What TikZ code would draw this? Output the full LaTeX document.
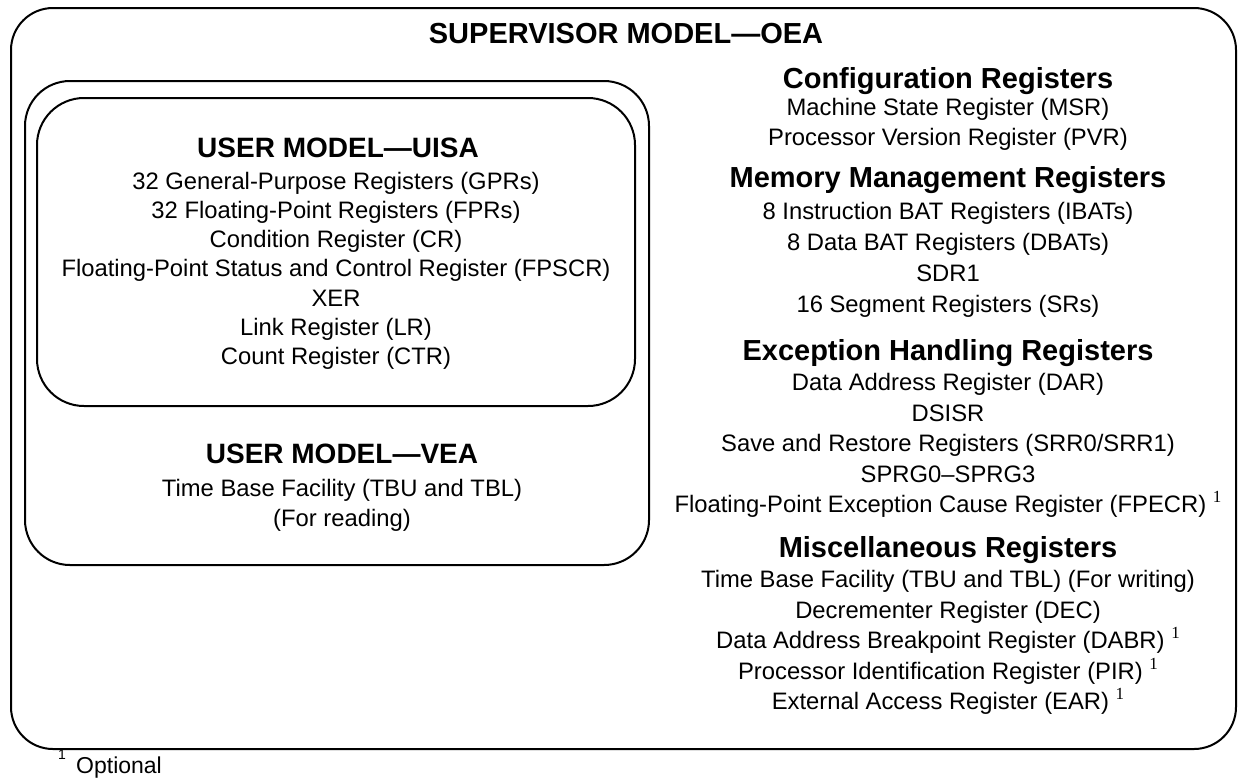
\documentclass[tikz,border=0pt]{standalone}
\usepackage{fontspec}
\setmainfont{Liberation Sans}
\newfontfamily\seriffont{Liberation Serif}
\newcommand{\optmark}{~\raisebox{10pt}{\fontsize{17}{17}\seriffont 1}}
\begin{document}
\begin{tikzpicture}[x=1pt,y=-1pt,
  frame/.style={draw=black, line width=2pt},
  ttl/.style={anchor=base, inner sep=0pt, font=\fontsize{29}{29}\selectfont\bfseries},
  lhd/.style={anchor=base, inner sep=0pt, font=\fontsize{28}{28}\selectfont\bfseries},
  txt/.style={anchor=base, inner sep=0pt, font=\fontsize{23.8}{28}\selectfont},
  foot/.style={anchor=base west, inner sep=0pt, font=\fontsize{23}{23}\selectfont}]
\useasboundingbox (0,0) rectangle (1238,777);
% frames
\draw[frame, rounded corners=42pt] (11,8) rectangle (1236,749);
\draw[frame, rounded corners=45pt] (25,81) rectangle (649,565);
\draw[frame, rounded corners=47pt] (37,98) rectangle (635,406);
% title
\node[ttl] (title) at (626,43) {SUPERVISOR MODEL—OEA};
% UISA
\node[lhd] (uisa) at (338,157) {USER MODEL—UISA};
\node[txt] (gpr) at (336,189) {32 General-Purpose Registers (GPRs)};
\node[txt] (fpr) at (336,218) {32 Floating-Point Registers (FPRs)};
\node[txt] (cr) at (336,247.5) {Condition Register (CR)};
\node[txt] (fpscr) at (336,276.5) {Floating-Point Status and Control Register (FPSCR)};
\node[txt] (xer) at (336,306) {XER};
\node[txt] (lr) at (336,335) {Link Register (LR)};
\node[txt] (ctr) at (336,364) {Count Register (CTR)};
% VEA
\node[lhd] (vea) at (342,463) {USER MODEL—VEA};
\node[txt] (tbr) at (342,496) {Time Base Facility (TBU and TBL)};
\node[txt] (forr) at (342,526) {(For reading)};
% right column
\node[ttl] (cfg) at (948,88) {Configuration Registers};
\node[txt] (msr) at (948,115.5) {Machine State Register (MSR)};
\node[txt] (pvr) at (948,145.5) {Processor Version Register (PVR)};
\node[ttl] (mem) at (948,187.5) {Memory Management Registers};
\node[txt] (ibat) at (948,219) {8 Instruction BAT Registers (IBATs)};
\node[txt] (dbat) at (948,250) {8 Data BAT Registers (DBATs)};
\node[txt] (sdr) at (948,281) {SDR1};
\node[txt] (sr) at (948,312) {16 Segment Registers (SRs)};
\node[ttl] (exc) at (948,360.5) {Exception Handling Registers};
\node[txt] (dar) at (948,390.5) {Data Address Register (DAR)};
\node[txt] (dsisr) at (948,421) {DSISR};
\node[txt] (srr) at (948,451.5) {Save and Restore Registers (SRR0/SRR1)};
\node[txt] (sprg) at (948,482) {SPRG0–SPRG3};
\node[txt] (fpecr) at (948,512.5) {Floating-Point Exception Cause Register (FPECR)\optmark};
\node[ttl] (misc) at (948,557.5) {Miscellaneous Registers};
\node[txt] (tbw) at (948,587.5) {Time Base Facility (TBU and TBL) (For writing)};
\node[txt] (dec) at (948,618) {Decrementer Register (DEC)};
\node[txt] (dabr) at (948,648.5) {Data Address Breakpoint Register (DABR)\optmark};
\node[txt] (pir) at (948,679) {Processor Identification Register (PIR)\optmark};
\node[txt] (ear) at (948,709.5) {External Access Register (EAR)\optmark};
% footnote
\node[anchor=base west, inner sep=0pt, font=\fontsize{14}{14}\selectfont] (fnmark) at (58,759) {1};
\node[foot] (fn) at (76,773) {Optional};
\end{tikzpicture}
\end{document}
